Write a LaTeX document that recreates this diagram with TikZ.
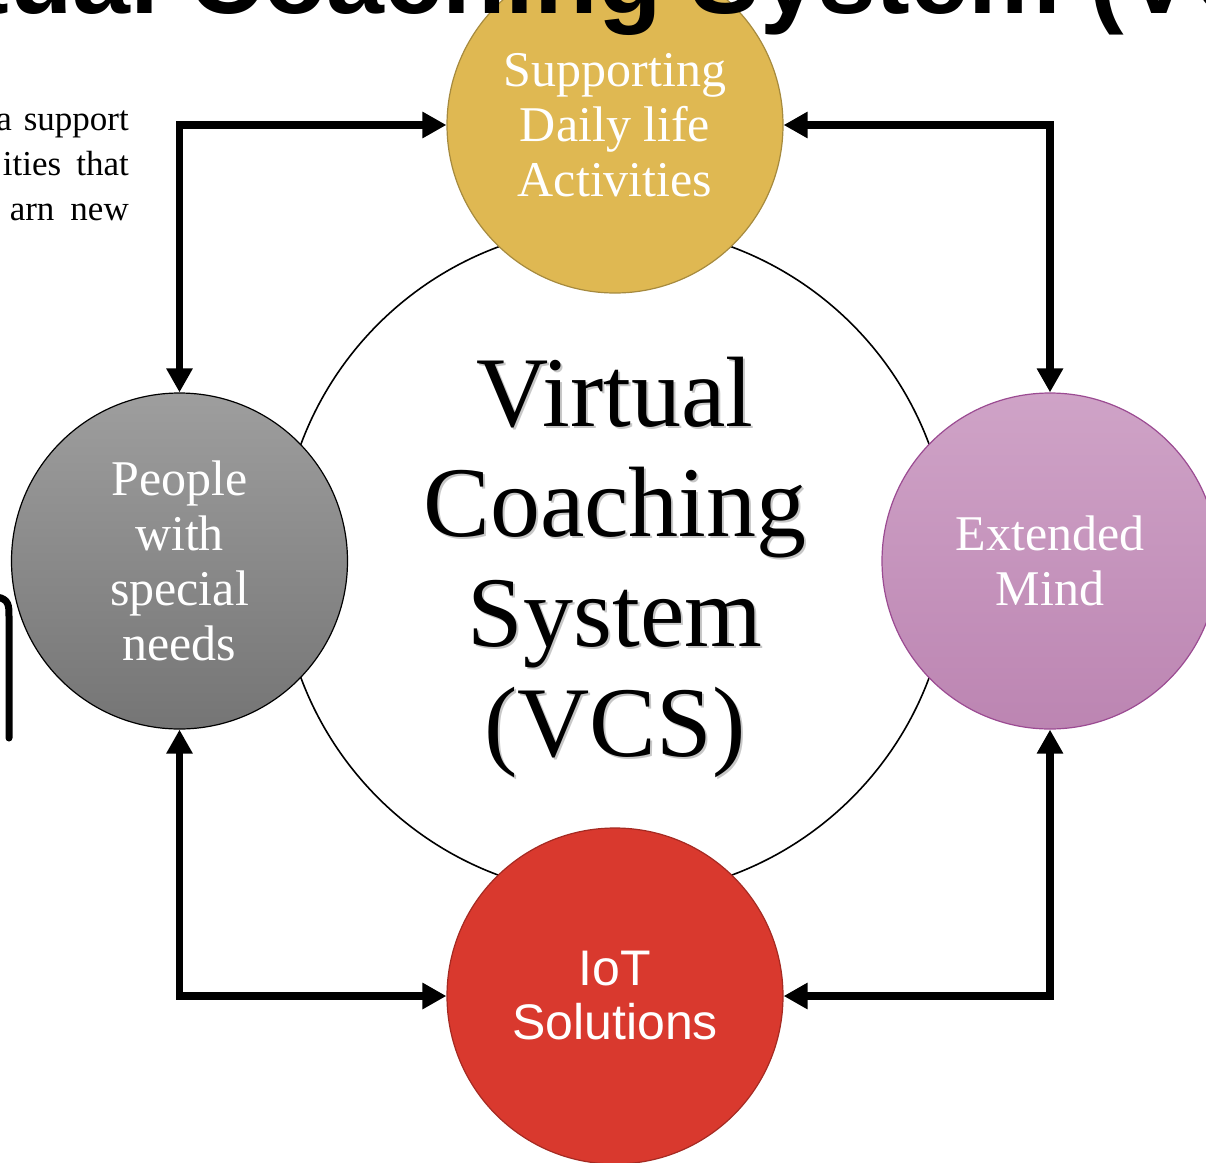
\documentclass[tikz,border=0pt]{standalone}
\usepackage{fontspec}
\setmainfont{Liberation Serif}
\newfontfamily\arialf{Liberation Sans}
\usetikzlibrary{arrows.meta,shapes.geometric}
\definecolor{goldF}{HTML}{DFB852}
\definecolor{goldD}{HTML}{A68A3E}
\definecolor{redF}{HTML}{D9392E}
\definecolor{redD}{HTML}{A52A22}
\definecolor{purT}{HTML}{CFA3C7}
\definecolor{purB}{HTML}{BC85B2}
\definecolor{purD}{HTML}{9B4B92}
\definecolor{grayT}{HTML}{9E9E9E}
\definecolor{grayB}{HTML}{757575}
\tikzset{
  small/.style={circle, minimum size=336pt, inner sep=0pt, text=white, align=center,
    font=\fontsize{50}{55}\selectfont, line width=1.2pt},
  conn/.style={line width=7.5pt, line join=miter,
    {Triangle[width=25pt,length=24pt]}-{Triangle[width=25pt,length=24pt]}},
  sidetext/.style={anchor=base east, inner sep=0pt, font=\fontsize{35}{45}\selectfont},
  bigtext/.style={align=center, inner sep=0pt, font=\fontsize{100}{110}\selectfont}
}
\begin{document}
\begin{tikzpicture}[x=1pt,y=-1pt]
\path[use as bounding box] (0,0) rectangle (1206,1162);
\clip (0,0) rectangle (1206,1162);
% central circle
\node[circle, draw, line width=1.6pt, minimum size=670pt, inner sep=0pt] (vcs) at (615,561) {};
\node[bigtext, text=black!22] (vcsshadow) at (617,569) {Virtual\\Coaching\\System\\(VCS)};
\node[bigtext] (vcstext) at (615,567) {Virtual\\Coaching\\System\\(VCS)};
% outer circles
\node[small, fill=goldF, draw=goldD] (gold) at (615,125) {Supporting\\Daily life\\Activities};
\node[small, top color=grayT, bottom color=grayB, draw=black] (gray) at (179.5,561) {People\\with\\special\\needs};
\node[small, top color=purT, bottom color=purB, draw=purD] (purple) at (1050,561) {Extended\\Mind};
\node[small, fill=redF, draw=redD, font=\arialf\fontsize{50}{54}\selectfont] (red) at (615,996) {IoT\\Solutions};
% connectors
\draw[conn] (gold.west) -| (gray.north);
\draw[conn] (gold.east) -| (purple.north);
\draw[conn] (gray.south) |- (red.west);
\draw[conn] (purple.south) |- (red.east);
% title (cut off at the top)
\node[anchor=base west, inner sep=0pt, font=\arialf\bfseries\fontsize{104}{110}\selectfont] (title) at (188,13) {\llap{Virtual\ }Coaching System (VCS)};
% side text fragments
\node[sidetext] (txtA) at (129,130) {a\hspace{12pt}support};
\node[sidetext] (txtB) at (129,175) {ities\hspace{15pt}that};
\node[sidetext] (txtC) at (129,220) {arn\hspace{16pt}new};
% partial bracket at left edge
\draw[line width=7pt, line cap=round] (-3,597) .. controls (9,599) and (9,606) .. (9,616) -- (9,738);
\end{tikzpicture}
\end{document}
